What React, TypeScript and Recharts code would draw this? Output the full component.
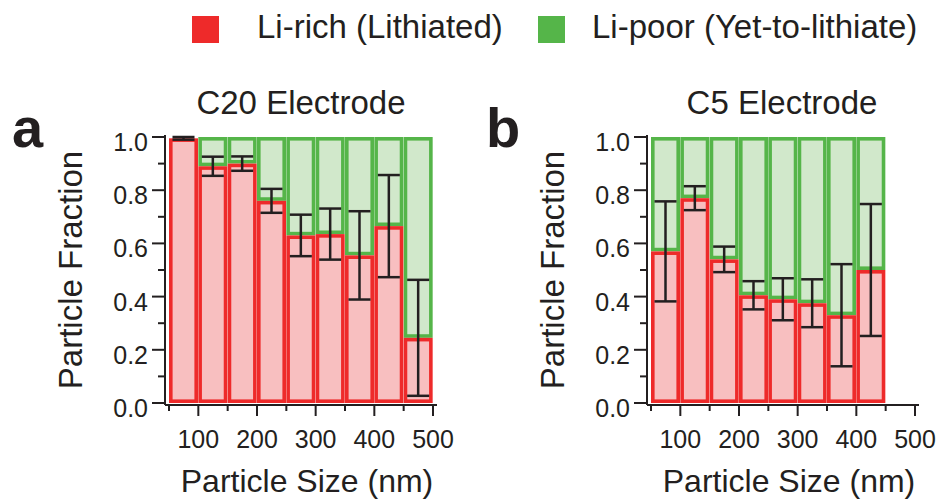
import React from "react";
import { BarChart, Bar, XAxis, YAxis, ErrorBar } from "recharts";

// particle size bins (nm), bin centres
const sizes = [75, 125, 175, 225, 275, 325, 375, 425, 475];

// C20 electrode: Li-rich fraction and error
const c20Rich = [0.995, 0.89, 0.9, 0.76, 0.63, 0.635, 0.555, 0.665, 0.245];
const c20Err = [0.005, 0.036, 0.027, 0.045, 0.078, 0.096, 0.166, 0.192, 0.218];

// C5 electrode (no particles in the last bin)
const c5Rich = [0.57, 0.77, 0.54, 0.405, 0.39, 0.375, 0.33, 0.5, null];
const c5Err = [0.188, 0.045, 0.048, 0.053, 0.079, 0.09, 0.192, 0.248, null];

const xTicks = [50, 100, 150, 200, 250, 300, 350, 400, 450, 500];
const yTicks = [0, 0.1, 0.2, 0.3, 0.4, 0.5, 0.6, 0.7, 0.8, 0.9, 1.0];

const RED = "#ee2a2a";
const PINK = "#f8bfc0";
const GREEN = "#55b549";
const LIGHTGREEN = "#d1e8cb";
const INK = "#231f20";
const FONT = '"Liberation Sans", Arial, Helvetica, sans-serif';
const SW = 3.6;

function build(rich: (number | null)[], err: (number | null)[]) {
  return sizes.map((s, i) => ({
    mid: s,
    rich: rich[i],
    err: err[i],
  }));
}

const XTick = (props: any) => {
  const { x, y, payload } = props;
  const major = payload.value % 100 === 0;
  return (
    <g>
      <line x1={x} x2={x} y1={y} y2={y + (major ? 11 : 6)} stroke={INK} strokeWidth={2} />
      {major && (
        <text x={x} y={y + 43} textAnchor="middle" fontSize={25} fill={INK} fontFamily={FONT}>
          {payload.value}
        </text>
      )}
    </g>
  );
};

const YTick = (props: any) => {
  const { x, y, payload } = props;
  const v = payload.value;
  const major = Math.round(v * 10) % 2 === 0;
  return (
    <g>
      <line x1={x - (major ? 13 : 7)} x2={x} y1={y} y2={y} stroke={INK} strokeWidth={2} />
      {major && (
        <text x={x - 17} y={y + 14} textAnchor="end" fontSize={25} fill={INK} fontFamily={FONT}>
          {v.toFixed(1)}
        </text>
      )}
    </g>
  );
};

// outlines drawn inside each bar, like the original figure
const inset = (fill: string, stroke: string) => (props: any) => {
  const { x, y, width, height } = props;
  const w = width - SW;
  const h = height - SW;
  if (!(w > 0) || !(h > 0)) return null;
  return <rect x={x + SW / 2} y={y + SW / 2} width={w} height={h} fill={fill} stroke={stroke} strokeWidth={SW} />;
};
const PoorShape = inset(LIGHTGREEN, GREEN);
const RichShape = inset(PINK, RED);

function Panel({ data }: { data: any[] }) {
  return (
    <BarChart
      width={470}
      height={460}
      data={data}
      margin={{ top: 135, right: 33, left: 0, bottom: 0 }}
      barCategoryGap={0}
      barGap={0}
    >
      <XAxis
        xAxisId="num"
        dataKey="mid"
        type="number"
        domain={[50, 500]}
        allowDataOverflow
        ticks={xTicks}
        interval={0}
        padding={{ left: 4, right: 4 }}
        height={55}
        tickSize={0}
        tickMargin={0}
        tickLine={false}
        tick={<XTick />}
        axisLine={{ stroke: INK, strokeWidth: 2 }}
      />
      <XAxis
        xAxisId="top"
        dataKey="mid"
        orientation="top"
        type="number"
        domain={[50, 500]}
        allowDataOverflow
        ticks={xTicks}
        interval={0}
        padding={{ left: 4, right: 4 }}
        height={0}
        tick={false}
        tickLine={false}
        axisLine={{ stroke: INK, strokeWidth: 1.5 }}
      />
      <YAxis
        yAxisId="left"
        type="number"
        domain={[0, 1]}
        allowDataOverflow
        ticks={yTicks}
        interval={0}
        padding={{ top: 2, bottom: 2 }}
        width={165}
        tickSize={0}
        tickMargin={0}
        tickLine={false}
        tick={<YTick />}
        axisLine={{ stroke: INK, strokeWidth: 2 }}
      />
      <YAxis
        yAxisId="right"
        orientation="right"
        type="number"
        domain={[0, 1]}
        allowDataOverflow
        ticks={yTicks}
        padding={{ top: 2, bottom: 2 }}
        width={0}
        tick={false}
        tickLine={false}
        axisLine={{ stroke: INK, strokeWidth: 1.5 }}
      />
      <Bar
        xAxisId="top"
        yAxisId="right"
        dataKey={(d: any) => (d.rich == null ? null : [d.rich, 1])}
        barSize={29}
        shape={<PoorShape />}
        isAnimationActive={false}
      />
      <Bar
        xAxisId="num"
        yAxisId="left"
        dataKey="rich"
        barSize={29}
        shape={<RichShape />}
        isAnimationActive={false}
      >
        <ErrorBar dataKey="err" width={11} strokeWidth={2.5} stroke={INK} direction="y" />
      </Bar>
    </BarChart>
  );
}

export default function App() {
  const txt = { fontFamily: FONT, fill: INK } as const;
  return (
    <div style={{ position: "absolute", left: 0, top: 0, width: 939, height: 499, background: "#fff", overflow: "hidden" }}>
      <svg width={939} height={499} style={{ position: "absolute", left: 0, top: 0 }}>
        <rect x={192} y={16} width={27} height={27} fill={RED} />
        <text x={257} y={38} fontSize={33} {...txt}>Li-rich (Lithiated)</text>
        <rect x={538} y={16} width={27} height={27} fill={GREEN} />
        <text x={592} y={38} fontSize={33} {...txt}>Li-poor (Yet-to-lithiate)</text>

        <text x={12} y={147} fontSize={56} fontWeight="bold" {...txt}>a</text>
        <text x={486} y={147} fontSize={56} fontWeight="bold" {...txt}>b</text>

        <text x={301} y={114} fontSize={33} textAnchor="middle" {...txt}>C20 Electrode</text>
        <text x={782} y={114} fontSize={33} textAnchor="middle" {...txt}>C5 Electrode</text>

        <text x={307} y={492} fontSize={32} textAnchor="middle" {...txt}>Particle Size (nm)</text>
        <text x={789} y={492} fontSize={32} textAnchor="middle" {...txt}>Particle Size (nm)</text>

        <text transform="translate(82,270) rotate(-90)" fontSize={33} textAnchor="middle" {...txt}>Particle Fraction</text>
        <text transform="translate(564,270) rotate(-90)" fontSize={33} textAnchor="middle" {...txt}>Particle Fraction</text>
      </svg>
      <div style={{ position: "absolute", left: 0, top: 0 }}>
        <Panel data={build(c20Rich, c20Err)} />
      </div>
      <div style={{ position: "absolute", left: 482, top: 0 }}>
        <Panel data={build(c5Rich, c5Err)} />
      </div>
    </div>
  );
}
